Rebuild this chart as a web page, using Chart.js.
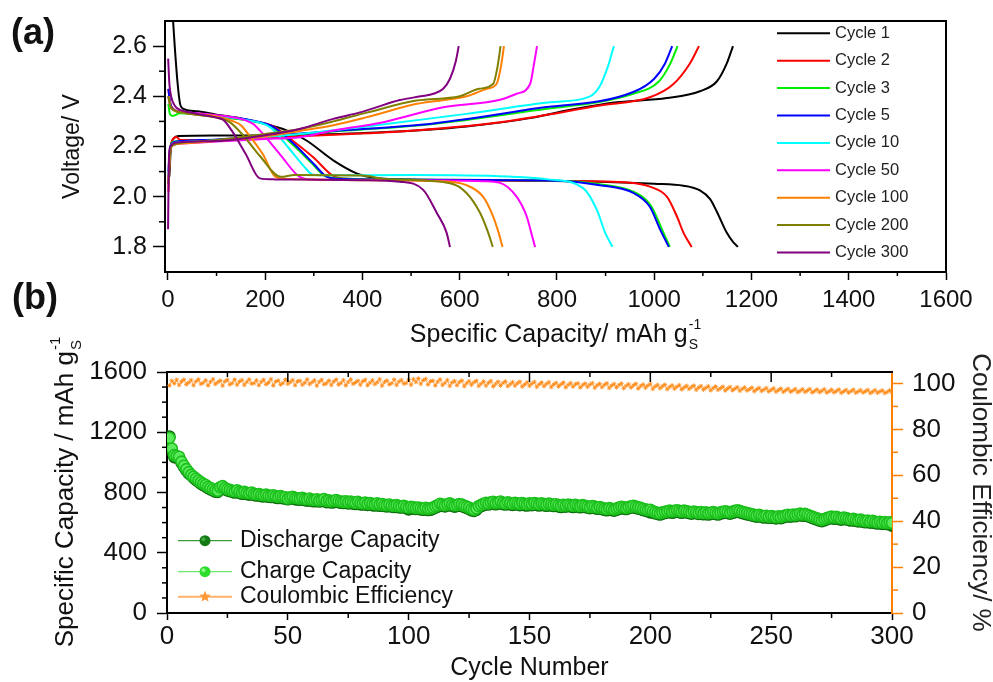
<!doctype html>
<html lang="en">
<head>
<meta charset="UTF-8">
<title>Discharge/charge profiles and cycling</title>
<script src="https://cdn.jsdelivr.net/npm/chart.js"></script>
<style>
  body { margin: 0; background: #fff; }
  #wrap { position: relative; width: 993px; height: 682px; overflow: hidden; background: #fff; }
  canvas { position: absolute; left: 0; }
  #voltageChart { top: 0; }
  #cycleChart { top: 300px; }
  .panel { position: absolute; font: bold 36px "Liberation Sans", Arial, sans-serif; line-height: 36px; color: #111; }
</style>
</head>
<body>
<div id="wrap">
  <canvas id="voltageChart" width="993" height="350"></canvas>
  <canvas id="cycleChart" width="993" height="382"></canvas>
  <div class="panel" style="left:11px; top:14px;">(a)</div>
  <div class="panel" style="left:12px; top:279px;">(b)</div>
</div>
<script>
// ---------- (a) voltage profiles, [capacity mAh/g, voltage V] ----------
const cycleLabels = ['Cycle 1', 'Cycle 2', 'Cycle 3', 'Cycle 5', 'Cycle 10', 'Cycle 50', 'Cycle 100', 'Cycle 200', 'Cycle 300'];

const discharge1 = [[8,2.78],[14,2.6],[20,2.45],[25,2.37],[30,2.352],[60,2.34],[100,2.327],[150,2.312],[190,2.295],[244,2.264],[285,2.224],[340,2.145],[388,2.093],[420,2.076],[500,2.069],[700,2.065],[888,2.06],[1000,2.052],[1060,2.044],[1094,2.025],[1115,1.99],[1130,1.935],[1149,1.857],[1162,1.82],[1172,1.80]];
const charge1 = [[3,2.08],[6,2.19],[12,2.232],[22,2.242],[100,2.244],[250,2.246],[430,2.256],[614,2.28],[751,2.315],[820,2.343],[923,2.376],[1026,2.393],[1094,2.42],[1129,2.46],[1149,2.53],[1162,2.60]];

const discharge2 = [[1,2.43],[4,2.38],[10,2.352],[25,2.338],[100,2.32],[170,2.303],[215,2.282],[262,2.215],[300,2.155],[338,2.085],[360,2.073],[500,2.067],[800,2.063],[950,2.056],[991,2.04],[1026,2.0],[1047,1.92],[1060,1.857],[1077,1.80]];
const charge2 = [[1,2.02],[4,2.17],[9,2.225],[17,2.238],[26,2.226],[100,2.226],[250,2.24],[477,2.26],[683,2.297],[888,2.363],[991,2.396],[1039,2.448],[1073,2.53],[1092,2.60]];

const discharge3 = [[1,2.37],[4,2.33],[10,2.322],[25,2.332],[100,2.318],[170,2.302],[212,2.28],[258,2.205],[295,2.135],[320,2.086],[340,2.075],[500,2.068],[800,2.064],[888,2.05],[957,2.02],[993,1.965],[1016,1.87],[1032,1.80]];
const charge3 = [[1,2.05],[4,2.18],[10,2.218],[30,2.222],[100,2.226],[340,2.26],[546,2.29],[751,2.343],[957,2.41],[1010,2.46],[1033,2.53],[1048,2.60]];

const discharge5 = [[1,2.43],[4,2.38],[10,2.35],[25,2.34],[100,2.322],[170,2.305],[215,2.28],[262,2.205],[300,2.13],[326,2.08],[345,2.072],[500,2.068],[800,2.064],[888,2.046],[957,2.015],[991,1.96],[1012,1.87],[1030,1.80]];
const charge5 = [[1,2.10],[4,2.19],[10,2.215],[30,2.222],[100,2.228],[340,2.262],[546,2.292],[751,2.35],[957,2.417],[1000,2.47],[1022,2.53],[1037,2.60]];

const discharge10 = [[1,2.40],[5,2.36],[12,2.345],[30,2.336],[100,2.323],[160,2.306],[210,2.277],[250,2.19],[280,2.12],[299,2.087],[330,2.085],[500,2.086],[700,2.08],[786,2.068],[854,2.034],[882,1.948],[899,1.857],[914,1.80]];
const charge10 = [[1,2.08],[4,2.18],[10,2.212],[30,2.218],[100,2.225],[271,2.25],[409,2.28],[614,2.33],[786,2.376],[868,2.40],[888,2.44],[905,2.52],[917,2.60]];

const discharge50 = [[1,2.40],[5,2.36],[12,2.346],[30,2.338],[100,2.325],[150,2.31],[175,2.29],[189,2.264],[230,2.17],[271,2.079],[300,2.068],[500,2.066],[650,2.062],[683,2.055],[717,2.0],[738,1.92],[747,1.857],[755,1.80]];
const charge50 = [[1,2.05],[4,2.17],[10,2.205],[30,2.212],[100,2.22],[200,2.23],[271,2.237],[340,2.264],[443,2.297],[566,2.356],[683,2.386],[717,2.41],[745,2.45],[752,2.52],[759,2.60]];

const discharge100 = [[1,2.40],[5,2.36],[12,2.345],[30,2.335],[100,2.32],[135,2.30],[150,2.285],[165,2.25],[195,2.17],[222,2.078],[260,2.07],[400,2.066],[560,2.062],[614,2.046],[648,2.0],[669,1.92],[680,1.857],[688,1.80]];
const charge100 = [[1,2.05],[4,2.17],[10,2.205],[30,2.212],[100,2.222],[200,2.24],[271,2.262],[340,2.285],[409,2.317],[512,2.37],[614,2.40],[656,2.43],[676,2.45],[685,2.52],[691,2.60]];

const discharge200 = [[1,2.40],[5,2.36],[12,2.345],[30,2.335],[100,2.315],[127,2.297],[155,2.244],[190,2.16],[232,2.079],[260,2.086],[400,2.084],[450,2.07],[580,2.054],[614,2.015],[642,1.935],[658,1.86],[668,1.80]];
const charge200 = [[1,2.05],[4,2.17],[10,2.205],[30,2.215],[100,2.226],[200,2.25],[271,2.27],[340,2.30],[409,2.335],[511,2.383],[600,2.40],[640,2.43],[669,2.45],[678,2.52],[684,2.60]];

const discharge300 = [[0.5,2.55],[3,2.45],[7,2.396],[15,2.36],[21,2.35],[60,2.33],[100,2.315],[114,2.306],[131,2.264],[160,2.17],[189,2.073],[220,2.069],[400,2.066],[477,2.06],[525,2.027],[553,1.935],[573,1.857],[580,1.80]];
const charge300 = [[0.3,1.87],[1,2.0],[2,2.15],[5,2.2],[18,2.216],[100,2.222],[200,2.245],[271,2.27],[340,2.31],[395,2.336],[422,2.352],[477,2.385],[520,2.40],[546,2.41],[566,2.43],[580,2.47],[592,2.54],[598,2.60]];

const dischargeCurves = [discharge1, discharge2, discharge3, discharge5, discharge10, discharge50, discharge100, discharge200, discharge300];
const chargeCurves = [charge1, charge2, charge3, charge5, charge10, charge50, charge100, charge200, charge300];

const capacityTicks = [0, 200, 400, 600, 800, 1000, 1200, 1400, 1600];
const voltageTicks = [1.8, 2.0, 2.2, 2.4, 2.6];

// ---------- (b) cycling, one value per cycle (1..300) ----------
const seriesLabels = ['Discharge Capacity', 'Charge Capacity', 'Coulombic Efficiency'];

const dischargeCapacity = [
  1172,1077,1035,1032,1030,998,970,948,928,914, 898,884,872,860,850,842,830,822,814,806,
  804,826,834,822,814,810,804,800,806,798, 792,796,790,786,792,784,780,782,776,774,
  778,772,770,774,766,764,768,762,760,755, 760,764,756,754,752,756,750,746,752,744,
  742,746,740,744,748,736,740,734,736,742, 736,732,730,734,728,732,726,724,730,722,
  720,724,718,722,716,714,720,712,716,710, 708,712,706,704,708,702,700,704,696,688,
  696,694,690,692,688,686,690,684,686,692, 700,706,716,712,708,714,720,712,706,710,
  716,712,704,698,692,682,678,686,702,710, 716,724,720,726,730,722,726,732,724,720,
  726,722,718,724,720,716,722,716,714,720, 716,722,718,714,720,716,712,718,714,710,
  714,708,704,710,706,712,708,704,710,706, 702,708,704,700,696,702,698,692,696,690,
  686,682,688,684,680,686,692,696,694,690, 696,700,704,698,694,690,684,680,676,668,
  668,662,658,654,660,664,668,672,666,670, 674,670,666,672,668,664,660,666,662,658,
  662,656,660,654,658,662,658,654,660,664, 668,664,660,666,670,674,670,664,660,656,
  652,648,644,640,644,638,634,638,632,636, 632,628,634,630,636,640,644,640,646,642,
  648,652,646,650,644,638,632,626,620,614, 610,616,622,628,632,626,630,624,620,626,
  622,618,614,618,612,608,612,606,602,606, 600,604,598,594,598,592,596,590,594,580
];

const chargeCapacity = [
  1162,1092,1048,1042,1037,1005,978,955,935,917, 905,892,880,868,858,850,838,830,822,815,
  812,835,842,830,822,818,812,808,815,806, 800,804,798,795,800,792,788,790,785,782,
  786,780,778,782,775,772,776,770,768,760, 768,772,765,762,760,764,758,755,760,752,
  750,755,748,752,756,745,748,742,745,750, 744,740,738,742,736,740,735,732,738,730,
  728,733,726,730,725,722,728,720,724,718, 716,720,714,712,716,710,708,712,705,700,
  705,702,698,700,696,694,698,692,695,700, 708,715,725,720,716,722,728,720,715,718,
  724,720,712,706,700,690,686,695,710,718, 725,732,728,735,738,730,734,740,732,728,
  735,730,726,732,728,724,730,725,722,728, 724,730,726,722,728,724,720,726,722,718,
  722,716,712,718,714,720,716,712,718,714, 710,716,712,708,704,710,706,700,704,698,
  694,690,696,692,688,694,700,705,702,698, 704,708,712,706,702,698,692,688,684,685,
  676,670,666,662,668,672,676,680,675,678, 682,678,674,680,676,672,668,674,670,666,
  670,664,668,662,666,670,666,662,668,672, 676,672,668,674,678,682,678,672,668,664,
  660,656,652,648,652,646,642,646,640,644, 640,636,642,638,644,648,652,648,654,650,
  656,660,654,658,652,646,640,634,628,622, 618,624,630,636,640,634,638,632,628,634,
  630,626,622,626,620,616,620,614,610,614, 608,612,606,602,606,600,604,598,602,598
];

const coulombicEfficiency = [
  99.1,101.2,100.0,101.6,99.3,100.8,101.7,99.6,100.4,101.5, 99.2,100.9,101.8,99.8,100.3,101.4,99.1,100.7,101.9,99.7,
  100.5,101.3,99.0,100.9,101.6,99.5,100.2,101.7,99.4,100.8, 101.5,99.3,100.6,101.8,99.9,100.1,101.4,99.2,100.7,101.6,
  99.6,100.4,101.9,99.1,100.8,101.3,99.5,100.2,101.7,99.8, 100.6,101.5,99.2,100.9,101.2,99.4,100.3,101.8,99.7,100.5,
  101.4,99.0,100.7,101.6,99.6,100.1,101.3,99.3,100.8,101.7, 99.5,100.2,101.5,99.1,100.6,101.8,99.8,100.4,101.2,99.4,
  100.9,101.6,99.2,100.3,101.4,99.7,100.5,101.9,99.0,100.6, 101.3,99.6,100.1,101.7,99.3,100.8,101.5,99.9,100.2,101.6,
  99.4,101.9,100.6,102.2,99.8,101.4,102.0,99.5,100.9,101.2, 99.1,100.7,101.8,99.3,100.2,101.5,98.9,100.4,101.1,99.2,
  100.6,101.3,98.8,100.1,101.0,99.4,100.5,101.2,98.9,99.9, 100.9,99.0,100.3,101.1,98.7,99.8,100.8,99.1,100.2,100.9,
  98.8,99.7,100.6,99.0,100.1,100.8,98.6,99.5,100.5,98.9, 99.9,100.7,98.5,99.6,100.4,98.8,99.8,100.6,98.4,99.5,
  100.3,98.7,99.6,100.4,98.3,99.4,100.2,98.6,99.7,100.1, 98.2,99.3,100.0,98.5,99.5,100.2,98.1,99.2,99.9,98.4,
  99.4,100.1,98.0,99.1,99.8,98.3,99.3,100.0,97.9,99.0, 99.7,98.2,99.2,99.9,97.8,98.9,99.6,98.1,99.1,99.8,
  97.6,98.7,99.4,97.9,98.8,99.5,97.5,98.5,99.2,97.7, 98.6,99.3,97.4,98.3,99.0,97.6,98.4,99.1,97.2,98.2,
  98.9,97.3,98.1,98.8,97.0,98.0,98.7,97.2,97.9,98.6, 96.9,97.8,98.5,97.0,97.7,98.4,96.8,97.6,98.3,96.9,
  97.5,98.2,96.6,97.4,98.1,96.7,97.3,98.0,96.5,97.2, 97.9,96.4,97.1,97.8,96.3,97.0,97.7,96.4,96.9,97.6,
  96.2,96.8,97.5,96.3,96.9,97.6,96.1,96.7,97.4,96.2, 96.8,97.5,96.0,96.6,97.3,96.1,96.7,97.4,95.9,96.5,
  97.2,96.0,96.6,97.3,95.9,96.5,97.1,96.0,96.6,97.2, 95.8,96.4,97.1,95.9,96.5,97.0,95.8,96.3,97.0,96.2
];

const cycleTicks = [0, 50, 100, 150, 200, 250, 300];
const specCapTicks = [0, 400, 800, 1200, 1600];
const ceTicks = [0, 20, 40, 60, 80, 100];

// ---------- styling ----------
const FONT = '"Liberation Sans", Arial, Helvetica, sans-serif';
const cycleColors = ['#000000', '#ff0000', '#00ee00', '#0000ff', '#00ffff', '#ff00ff', '#ff8000', '#808000', '#800080'];
const TEXT = '#111';
const ORANGE = '#ff8000';

Chart.defaults.font.family = FONT;
Chart.defaults.color = TEXT;
Chart.defaults.animation = false;

function steps(from, to, step, skipEvery) {
  const out = [];
  for (let i = 0; from + i * step <= to + 1e-9; i++) {
    const v = Math.round((from + i * step) * 1000) / 1000;
    if (skipEvery && Math.abs(v / skipEvery - Math.round(v / skipEvery)) < 1e-6) continue;
    out.push(v);
  }
  return out;
}

// use a fixed list of tick values instead of Chart.js' own spacing
const fixedTicks = values => scale => { scale.ticks = values.map(v => ({ value: v })); };

// closing frame lines and the short/mirrored tick marks Chart.js has no option for
function frameTicks(cfg) {
  return {
    id: 'frameTicks',
    afterDraw(chart) {
      const { ctx, chartArea: a } = chart;
      ctx.save();
      ctx.lineCap = 'square';
      cfg.lines.forEach(l => {
        ctx.strokeStyle = l.color;
        ctx.lineWidth = 2;
        ctx.beginPath();
        if (l.edge === 'top') { ctx.moveTo(a.left, a.top); ctx.lineTo(a.right, a.top); }
        if (l.edge === 'right') { ctx.moveTo(a.right, a.top); ctx.lineTo(a.right, a.bottom); }
        ctx.stroke();
      });
      ctx.lineCap = 'butt';
      cfg.marks.forEach(m => {
        const scale = chart.scales[m.axis];
        ctx.strokeStyle = m.color || '#000';
        ctx.lineWidth = 1.5;
        m.values.forEach(v => {
          const p = scale.getPixelForValue(v);
          ctx.beginPath();
          if (m.edge === 'left') { ctx.moveTo(a.left, p); ctx.lineTo(a.left - m.len, p); }
          if (m.edge === 'right') { ctx.moveTo(a.right, p); ctx.lineTo(a.right + m.len, p); }
          if (m.edge === 'bottom') { ctx.moveTo(p, a.bottom); ctx.lineTo(p, a.bottom + m.len); }
          if (m.edge === 'top') { ctx.moveTo(p, a.top); ctx.lineTo(p, a.top + m.len); }
          ctx.stroke();
        });
      });
      ctx.restore();
    }
  };
}

// "... mAh g" followed by a stacked subscript S and superscript -1
function drawCapacityTitle(ctx, text, cx, cy, rotation, size) {
  ctx.save();
  ctx.translate(cx, cy);
  ctx.rotate(rotation);
  ctx.fillStyle = TEXT;
  ctx.textAlign = 'left';
  ctx.textBaseline = 'alphabetic';
  const big = `${size}px ${FONT}`;
  const small = `${Math.round(size * 0.58)}px ${FONT}`;
  ctx.font = big;
  const w = ctx.measureText(text).width;
  ctx.font = small;
  const sw = Math.max(ctx.measureText('S').width, ctx.measureText('-1').width);
  const x0 = -(w + sw) / 2;
  const base = size * 0.36;
  ctx.font = big;
  ctx.fillText(text, x0, base);
  ctx.font = small;
  ctx.fillText('S', x0 + w + 1, base + size * 0.3);
  ctx.fillText('-1', x0 + w + 1, base - size * 0.52);
  ctx.restore();
}

const cycleLegend = {
  id: 'cycleLegend',
  afterDraw(chart) {
    const ctx = chart.ctx;
    ctx.save();
    ctx.font = `16.5px ${FONT}`;
    ctx.textBaseline = 'middle';
    ctx.textAlign = 'left';
    cycleLabels.forEach((label, k) => {
      const y = 33.3 + k * 27.4;
      ctx.strokeStyle = cycleColors[k];
      ctx.lineWidth = 2;
      ctx.beginPath();
      ctx.moveTo(777, y);
      ctx.lineTo(830, y);
      ctx.stroke();
      ctx.fillStyle = '#222';
      ctx.fillText(label, 835, y);
    });
    drawCapacityTitle(ctx, 'Specific Capacity/ mAh g', 555, 332.5, 0, 25);
    ctx.restore();
  }
};

function drawStar(ctx, x, y, r, color) {
  ctx.beginPath();
  for (let i = 0; i < 10; i++) {
    const ang = -Math.PI / 2 + i * Math.PI / 5;
    const rr = i % 2 ? r * 0.45 : r;
    ctx.lineTo(x + rr * Math.cos(ang), y + rr * Math.sin(ang));
  }
  ctx.closePath();
  ctx.fillStyle = color;
  ctx.fill();
}

const capacityLegend = {
  id: 'capacityLegend',
  afterDraw(chart) {
    const ctx = chart.ctx;
    const rows = [240.7, 271.7, 296.7];
    const lineColors = ['#3c9c3c', '#6ee66e', '#ffb26b'];
    ctx.save();
    ctx.font = `23px ${FONT}`;
    ctx.textBaseline = 'middle';
    ctx.textAlign = 'left';
    seriesLabels.forEach((label, k) => {
      const y = rows[k];
      ctx.strokeStyle = lineColors[k];
      ctx.lineWidth = k === 2 ? 2 : 1.3;
      ctx.beginPath();
      ctx.moveTo(178, y);
      ctx.lineTo(232, y);
      ctx.stroke();
      if (k === 2) {
        drawStar(ctx, 205, y, 6, '#ff9a3a');
      } else {
        ctx.beginPath();
        ctx.arc(205, y, 5.5, 0, Math.PI * 2);
        ctx.fillStyle = k === 0 ? '#137a13' : '#2bdc2b';
        ctx.fill();
        ctx.beginPath();
        ctx.arc(203.5, y - 1.5, 2, 0, Math.PI * 2);
        ctx.fillStyle = k === 0 ? '#3fa83f' : '#8ff58f';
        ctx.fill();
      }
      ctx.fillStyle = TEXT;
      ctx.fillText(label, 240, y);
    });
    drawCapacityTitle(ctx, 'Specific Capacity / mAh g', 64, 192.5, -Math.PI / 2, 26);
    ctx.restore();
  }
};

// ---------- chart (a) ----------
const profileSets = [];
cycleLabels.forEach((label, k) => {
  [dischargeCurves[k], chargeCurves[k]].forEach(curve => {
    profileSets.push({
      label: label,
      data: curve.map(p => ({ x: p[0], y: p[1] })),
      showLine: true,
      borderColor: cycleColors[k],
      borderWidth: 2,
      pointRadius: 0,
      cubicInterpolationMode: 'monotone',
      order: cycleLabels.length - k
    });
  });
});

new Chart(document.getElementById('voltageChart'), {
  type: 'scatter',
  data: { datasets: profileSets },
  options: {
    responsive: false,
    devicePixelRatio: 1,
    layout: { padding: { top: 20, right: 47, bottom: 0, left: 0 } },
    plugins: { legend: { display: false }, tooltip: { enabled: false } },
    scales: {
      x: {
        type: 'linear', min: -6, max: 1600,
        afterBuildTicks: fixedTicks(capacityTicks),
        ticks: { font: { size: 24 }, padding: 6, color: TEXT, callback: v => String(v) },
        grid: { drawOnChartArea: false, tickLength: 8, tickWidth: 1.5, tickColor: '#000' },
        border: { color: '#000', width: 2 },
        afterFit: s => { s.height = 78; }
      },
      y: {
        min: 1.7, max: 2.7,
        afterBuildTicks: fixedTicks(voltageTicks),
        ticks: { font: { size: 25 }, padding: 6, color: TEXT, callback: v => v.toFixed(1) },
        grid: { drawOnChartArea: false, tickLength: 12, tickWidth: 1.5, tickColor: '#000' },
        border: { color: '#000', width: 2 },
        title: { display: true, text: 'Voltage/ V', color: TEXT, font: { size: 23, lineHeight: 1 },
                 padding: { top: 61.5, bottom: 0 } },
        afterFit: s => { s.width = 165; }
      }
    }
  },
  plugins: [
    frameTicks({
      lines: [{ edge: 'top', color: '#000' }, { edge: 'right', color: '#000' }],
      marks: [
        { axis: 'x', edge: 'bottom', len: 4, values: steps(100, 1500, 200) },
        { axis: 'y', edge: 'left', len: 6, values: [1.9, 2.1, 2.3, 2.5] }
      ]
    }),
    cycleLegend
  ]
});

// ---------- chart (b) ----------
const byCycle = values => values.map((v, i) => ({ x: i + 1, y: v }));

new Chart(document.getElementById('cycleChart'), {
  type: 'scatter',
  data: {
    datasets: [
      {
        label: seriesLabels[1], data: byCycle(chargeCapacity), showLine: true,
        borderColor: '#5ee05e', borderWidth: 1, pointRadius: 5.5,
        pointBackgroundColor: '#5ceb5c', pointBorderColor: '#1cc01c', pointBorderWidth: 1.6, order: 0
      },
      {
        label: seriesLabels[0], data: byCycle(dischargeCapacity), showLine: true,
        borderColor: '#2a8f2a', borderWidth: 1, pointRadius: 5.5,
        pointBackgroundColor: '#1c961c', pointBorderColor: '#0d6d0d', pointBorderWidth: 1.6, order: 1
      },
      {
        label: seriesLabels[2], data: byCycle(coulombicEfficiency), yAxisID: 'y1', showLine: true,
        borderColor: '#ffa24a', borderWidth: 0.9, pointStyle: 'star', pointRadius: 2.2,
        pointBorderColor: '#ff8c1a', pointBorderWidth: 0.9, order: 2
      }
    ]
  },
  options: {
    responsive: false,
    devicePixelRatio: 1,
    layout: { padding: { top: 72, right: 0, bottom: 0, left: 0 } },
    plugins: { legend: { display: false }, tooltip: { enabled: false } },
    scales: {
      x: {
        type: 'linear', min: 0, max: 300,
        afterBuildTicks: fixedTicks(cycleTicks),
        ticks: { font: { size: 26 }, padding: 1, color: TEXT, callback: v => String(v) },
        grid: { drawOnChartArea: false, tickLength: 7, tickWidth: 1.5, tickColor: '#000' },
        border: { color: '#000', width: 2 },
        title: { display: true, text: 'Cycle Number', color: TEXT, font: { size: 25, lineHeight: 1 },
                 padding: { top: 0, bottom: 1.5 } },
        afterFit: s => { s.height = 69; }
      },
      y: {
        min: 0, max: 1600,
        afterBuildTicks: fixedTicks(specCapTicks),
        ticks: { font: { size: 26 }, padding: 10, color: TEXT, callback: v => String(v) },
        grid: { drawOnChartArea: false, tickLength: 10, tickWidth: 1.5, tickColor: '#000' },
        border: { color: '#000', width: 2 },
        afterFit: s => { s.width = 167; }
      },
      y1: {
        position: 'right', min: 0, max: 105,
        afterBuildTicks: fixedTicks(ceTicks),
        ticks: { font: { size: 26 }, padding: 9, color: TEXT, callback: v => String(v) },
        grid: { drawOnChartArea: false, tickLength: 11, tickWidth: 1.5, tickColor: ORANGE },
        border: { color: ORANGE, width: 2 },
        title: { display: true, text: 'Coulombic Efficiency/ %', color: '#222', font: { size: 26, lineHeight: 1 },
                 padding: { top: 0, bottom: 0 } },
        afterFit: s => { s.width = 101; }
      }
    }
  },
  plugins: [
    frameTicks({
      lines: [{ edge: 'top', color: '#000' }],
      marks: [
        { axis: 'x', edge: 'bottom', len: 5, values: steps(25, 275, 50) },
        { axis: 'x', edge: 'top', len: 10, values: steps(50, 250, 50) },
        { axis: 'x', edge: 'top', len: 5, values: steps(25, 275, 50) },
        { axis: 'y', edge: 'left', len: 5, values: steps(100, 1500, 100, 400) },
        { axis: 'y1', edge: 'right', len: 6, values: steps(10, 90, 20), color: ORANGE }
      ]
    }),
    capacityLegend
  ]
});
</script>
</body>
</html>
